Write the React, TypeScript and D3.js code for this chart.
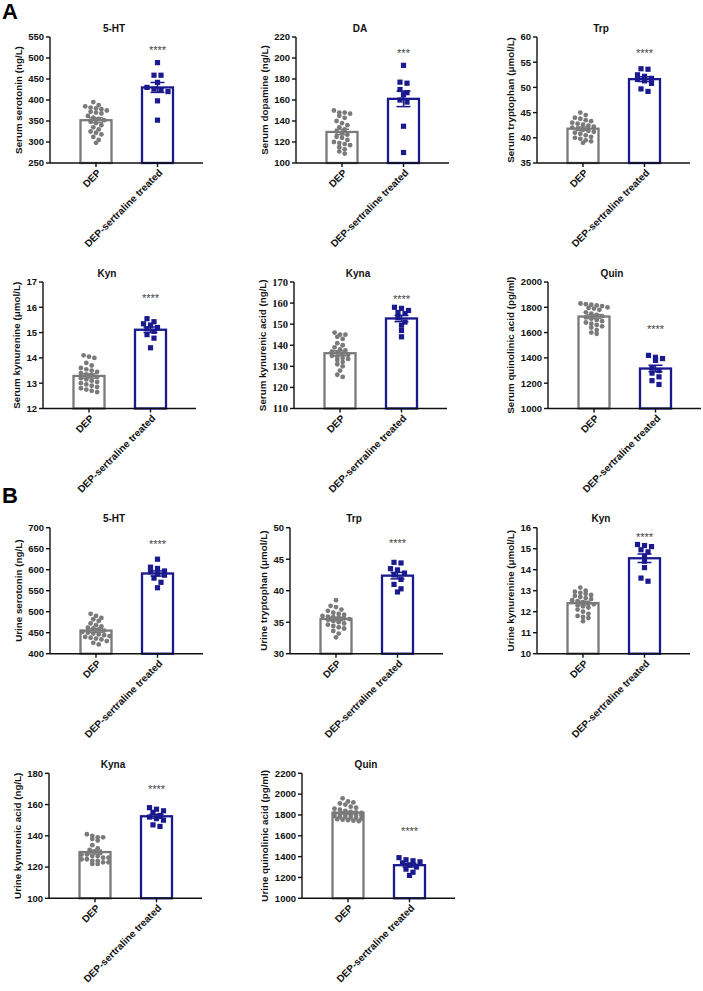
import React from 'react';
import * as d3 from 'd3';

const groups = ['DEP', 'DEP-sertraline treated'];

const titles = ['5-HT', 'DA', 'Trp', 'Kyn', 'Kyna', 'Quin', '5-HT', 'Trp', 'Kyn', 'Kyna', 'Quin'];

const yLabels = [
  'Serum serotonin (ng/L)',
  'Serum dopamine (ng/L)',
  'Serum tryptophan (μmol/L)',
  'Serum kynurenine (μmol/L)',
  'Serum kynurenic acid (ng/L)',
  'Serum quinolinic acid (pg/ml)',
  'Urine serotonin (ng/L)',
  'Urine tryptophan (μmol/L)',
  'Urine kynurenine (μmol/L)',
  'Urine kynurenic acid (ng/L)',
  'Urine quinolinic acid (pg/ml)',
];

const yDomains: [number, number][] = [
  [250, 550], [100, 220], [35, 60], [12, 17], [110, 170], [1000, 2000],
  [400, 700], [30, 50], [10, 16], [100, 180], [1000, 2200],
];
const yTickSteps = [50, 20, 5, 1, 10, 200, 50, 5, 1, 20, 200];

const starLabels = ['****', '***', '****', '****', '****', '****', '****', '****', '****', '****', '****'];
const starValues = [526, 207.6, 57.4, 16.45, 163.3, 1648, 668, 47.9, 15.69, 171.4, 1674];

const depValues: number[][] = [
  [395, 388, 385, 382, 380, 378, 375, 372, 370, 368, 362, 358, 355, 352, 348, 345, 340, 335, 330, 325, 322, 318, 312, 305, 298],
  [150, 148, 148, 147, 145, 143, 140, 138, 136, 134, 132, 130, 128, 127, 125, 124, 122, 120, 119, 118, 117, 115, 113, 111, 109],
  [45.0, 44.5, 44.0, 43.8, 43.5, 43.3, 43.0, 42.8, 42.6, 42.4, 42.2, 42.0, 41.8, 41.6, 41.4, 41.2, 41.0, 40.8, 40.5, 40.2, 40.0, 39.8, 39.5, 39.3, 39.0],
  [14.1, 14.05, 14.0, 13.8, 13.7, 13.6, 13.55, 13.5, 13.45, 13.4, 13.35, 13.3, 13.25, 13.2, 13.15, 13.1, 13.05, 13.0, 12.95, 12.9, 12.85, 12.8, 12.75, 12.7, 12.65],
  [146, 145, 145, 144, 143, 141, 140, 139, 138, 137.5, 137, 136.5, 136, 135.5, 135, 134.5, 134, 133.5, 133, 132, 131, 130, 128, 126, 125],
  [1830, 1825, 1820, 1815, 1810, 1800, 1795, 1790, 1780, 1760, 1750, 1740, 1730, 1720, 1710, 1700, 1690, 1680, 1670, 1660, 1650, 1640, 1620, 1600, 1590],
  [495, 490, 485, 482, 478, 472, 468, 465, 462, 460, 458, 455, 452, 450, 448, 446, 444, 442, 440, 438, 436, 434, 430, 426, 422],
  [38.5, 37.6, 37.4, 37.0, 36.8, 36.5, 36.3, 36.2, 36.0, 35.9, 35.8, 35.7, 35.6, 35.5, 35.4, 35.2, 35.0, 34.8, 34.6, 34.4, 34.2, 34.0, 33.6, 33.2, 32.6],
  [13.15, 13.0, 12.95, 12.9, 12.85, 12.8, 12.75, 12.7, 12.65, 12.6, 12.55, 12.5, 12.45, 12.4, 12.35, 12.3, 12.25, 12.2, 12.1, 12.0, 11.9, 11.8, 11.75, 11.7, 11.55],
  [141, 140, 139, 139, 138, 137, 134, 132, 131, 130, 129, 128, 128, 127, 127, 126, 126, 125, 125, 124, 124, 123, 123, 122, 122],
  [1960, 1930, 1920, 1910, 1900, 1880, 1870, 1860, 1850, 1840, 1830, 1825, 1820, 1815, 1810, 1805, 1800, 1800, 1795, 1790, 1785, 1780, 1775, 1770, 1765, 1760, 1755, 1750, 1745, 1740],
];

const trtValues: number[][] = [
  [489, 459, 459, 442, 430, 426, 424, 420, 398, 352],
  [193, 177, 176, 170, 167, 165, 160, 158, 135, 110],
  [53.7, 53.6, 52.5, 52.2, 51.8, 51.6, 51.3, 50.8, 49.7, 49.2],
  [15.55, 15.43, 15.35, 15.3, 15.2, 15.15, 15.05, 14.92, 14.78, 14.4],
  [158, 157.5, 156.5, 155.5, 155, 153, 151, 149.5, 147, 144],
  [1420, 1405, 1395, 1380, 1320, 1300, 1280, 1250, 1220, 1190],
  [625, 606, 603, 597, 595, 590, 587, 580, 570, 557],
  [44.5, 44.4, 43.5, 43.3, 42.8, 42.5, 41.8, 41.0, 40.3, 39.8],
  [15.2, 15.15, 15.1, 14.95, 14.85, 14.65, 14.4, 14.1, 13.6, 13.45],
  [158, 157, 156, 155, 153, 152, 151, 150, 147, 146],
  [1390, 1370, 1360, 1350, 1340, 1320, 1300, 1280, 1250, 1220],
];

// layout (positions only)
const rowsY: [number, number][] = [[37, 163], [282, 408.5], [527.7, 653.7], [773.3, 898.3]];
const panelLayout = [
  { ax: 50, row: 0 }, { ax: 296, row: 0 }, { ax: 537, row: 0 },
  { ax: 43, row: 1 }, { ax: 294, row: 1 }, { ax: 548, row: 1 },
  { ax: 50, row: 2 }, { ax: 290, row: 2 }, { ax: 537, row: 2 },
  { ax: 49, row: 3 }, { ax: 302, row: 3 },
];
const serifTickPanels = [4];

const GREY = '#7a7a7a';
const NAVY = '#1a1a8e';
const FONT = '"Liberation Sans", Arial, sans-serif';

function swarm(vals: number[], y: (v: number) => number, binPx: number, spacing: number, maxPerRow: number) {
  const pts = vals.map((v) => ({ v, y: y(v) })).sort((a, b) => a.y - b.y);
  const rows: { v: number; y: number }[][] = [];
  for (const p of pts) {
    const last = rows[rows.length - 1];
    if (last && p.y - last[0].y < binPx && last.length < maxPerRow) last.push(p);
    else rows.push([p]);
  }
  const out: { dx: number; y: number }[] = [];
  rows.forEach((r) => {
    const n = r.length;
    r.forEach((p, i) => out.push({ dx: (i - (n - 1) / 2) * spacing, y: p.y }));
  });
  return out;
}

function Panel({ i }: { i: number }) {
  const { ax, row } = panelLayout[i];
  const [top, bottom] = rowsY[row];
  const [d0, d1] = yDomains[i];
  const y = d3.scaleLinear().domain([d0, d1]).range([bottom, top]);
  const x = d3.scalePoint<string>().domain(groups).range([ax + 46, ax + 107.5]);
  const ticks = d3.range(d0, d1 + yTickSteps[i] / 2, yTickSteps[i]);
  const digits = String(d1).length;
  const labelX = ax - (4 + 3 + digits * 5.3 + 9);
  const tickFont = serifTickPanels.includes(i) ? '"Liberation Serif", "Times New Roman", serif' : FONT;
  const barW = 31;
  const series = [
    { g: groups[0], vals: depValues[i], color: GREY, shape: 'circle' },
    { g: groups[1], vals: trtValues[i], color: NAVY, shape: 'square' },
  ];
  return (
    <g>
      <text x={ax + 64} y={top - 5.5} textAnchor="middle" fontFamily={FONT} fontWeight="bold" fontSize={10} fill="#111">
        {titles[i]}
      </text>
      <text
        transform={`translate(${labelX},${(top + bottom) / 2}) rotate(-90)`}
        textAnchor="middle"
        dy="0.35em"
        fontFamily={FONT}
        fontWeight="bold"
        fontSize={9.8}
        fill="#111"
      >
        {yLabels[i]}
      </text>
      {series.map((s, k) => {
        const cx = x(s.g)!;
        const mean = d3.mean(s.vals)!;
        const sem = d3.deviation(s.vals)! / Math.sqrt(s.vals.length);
        const pts = swarm(s.vals, y, s.shape === 'circle' ? 4.2 : 4.5, s.shape === 'circle' ? 5.4 : 7, s.shape === 'circle' ? 6 : 4);
        return (
          <g key={k}>
            <rect x={cx - barW / 2} y={y(mean)} width={barW} height={bottom - y(mean)} fill="white" stroke={s.color} strokeWidth={2.3} />
            {pts.map((p, j) =>
              s.shape === 'circle' ? (
                <circle key={j} cx={cx + p.dx} cy={p.y} r={2.4} fill={s.color} />
              ) : (
                <rect key={j} x={cx + p.dx - 2.6} y={p.y - 2.6} width={5.2} height={5.2} fill={s.color} />
              )
            )}
            <g stroke={s.color} strokeWidth={1.5}>
              <line x1={cx} x2={cx} y1={y(mean + sem)} y2={y(mean - sem)} />
              <line x1={cx - 7} x2={cx + 7} y1={y(mean + sem)} y2={y(mean + sem)} />
              <line x1={cx - 7} x2={cx + 7} y1={y(mean - sem)} y2={y(mean - sem)} />
            </g>
          </g>
        );
      })}
      <text x={x(groups[1])!} y={y(starValues[i]) + 6.5} textAnchor="middle" fontFamily={FONT} fontSize={11} fill="#444">
        {starLabels[i]}
      </text>
      {/* y axis */}
      <line x1={ax} x2={ax} y1={top} y2={bottom} stroke="#111" strokeWidth={1.4} />
      {ticks.map((t) => (
        <g key={t}>
          <line x1={ax - 4} x2={ax} y1={y(t)} y2={y(t)} stroke="#111" strokeWidth={1.4} />
          <text x={ax - 6} y={y(t)} dy="0.35em" textAnchor="end" fontFamily={tickFont} fontWeight="bold" fontSize={serifTickPanels.includes(i) ? 10.5 : 9.5} fill="#111">
            {t}
          </text>
        </g>
      ))}
      {/* x axis */}
      <line x1={ax} x2={ax + 153} y1={bottom} y2={bottom} stroke="#111" strokeWidth={1.4} />
      {groups.map((g) => (
        <g key={g}>
          <line x1={x(g)!} x2={x(g)!} y1={bottom} y2={bottom + 4} stroke="#111" strokeWidth={1.4} />
          <text
            transform={`translate(${x(g)! + 3},${bottom + 8}) rotate(-45)`}
            textAnchor="end"
            dy="0.35em"
            fontFamily={FONT}
            fontWeight="bold"
            fontSize={10}
            fill="#111"
          >
            {g}
          </text>
        </g>
      ))}
    </g>
  );
}

export default function App() {
  return (
    <svg width={703} height={991} style={{ position: 'absolute', left: 0, top: 0, background: 'white' }}>
      <rect width={703} height={991} fill="white" />
      <text x={2} y={19} fontFamily={FONT} fontWeight="bold" fontSize={22} fill="#000">A</text>
      <text x={2} y={503} fontFamily={FONT} fontWeight="bold" fontSize={22} fill="#000">B</text>
      {titles.map((_, i) => (
        <Panel key={i} i={i} />
      ))}
    </svg>
  );
}
